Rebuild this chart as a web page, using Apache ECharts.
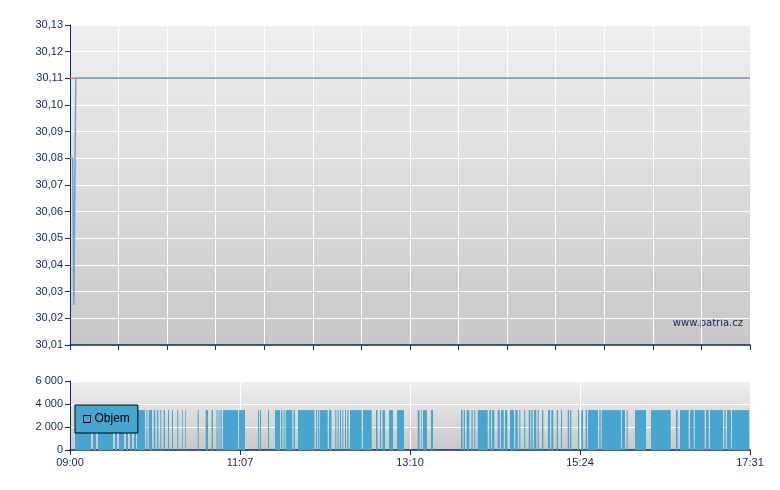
<!DOCTYPE html>
<html>
<head>
<meta charset="utf-8">
<script src="https://cdn.jsdelivr.net/npm/echarts@6/dist/echarts.min.js"></script>
<style>
html,body{margin:0;padding:0;background:#fff;}
#c{width:780px;height:490px;}
</style>
</head>
<body>
<div id="c"></div>
<script>
// ---- data ----
const timeLabels = ['09:00', '11:07', '13:10', '15:24', '17:31'];
const axisSpan = 680;               // session position units (0 = 09:00, 680 = 17:31)
const priceX = [0, 2.7, 3.8, 5.8, 680];
const priceY = [30.08, 30.08, 30.025, 30.11, 30.11];
const prevClose = 30.11;
const priceTicks = [30.01, 30.13, 0.01];   // min, max, step
const volumeTicks = [0, 6000, 2000];
// volume bars: start, end (session position units), volume
const volStart = [5,23,28,45,49,56,60,64,67,76.3,78.7,83.7,87,90.3,93.7,98,102,107.3,112.3,115.3,127.7,135.7,141.7,146.5,148.5,150.5,153,169,188,190,198,205,211,213.7,215.7,223.7,228,246,248,250,259,265.3,267.7,270,272.3,275,277.3,280,293,306,310,312.5,319,327,347.7,351,353,361,391,393.7,396.7,401.5,404.3,407.7,419.3,422,427.7,431,435,440,445.3,449.3,454.3,458.7,461.3,464,467.7,472,478,481.3,486.7,491,497.7,500,508,511.3,515.7,518,529.3,531.7,552,556.7,565,581,606,610,620,624.7,636,640,654.3,657,662];
const volEnd   = [21,26,43,47,54,58,62,66,75,77.3,82,85.3,88.3,91.3,95,99,103,108.3,113,116,128.7,138,143,147.5,149.5,151.7,168,175,189,191,199,210,212.3,214.7,222.3,225,244.5,247,249.3,257.7,261.5,266.3,268.7,271,273.3,276,278.5,291.7,301.7,307.5,311,315,323,334,349.5,351.7,357,363,392.5,395,399.3,402.7,405.3,417.7,421,424.3,429.7,433.7,437.3,444,447.7,450.3,455.3,460.3,462.7,466.3,468.7,473.3,480,483.3,488,492,499,501.3,509,513,517,528,530.7,551,555,557.7,576,600.7,607.7,618.7,623.7,634.7,638.7,653,655.7,661,679];
const volValue = volStart.map(() => 3470);

// ---- chart ----
const navy = '#0e2a5e';
const font = 'Liberation Sans, Arial, sans-serif';
const bgGrad = {type:'linear', x:0, y:0, x2:0, y2:1, colorStops:[{offset:0,color:'#efefef'},{offset:1,color:'#c8c8c8'}]};
const volRows = volStart.map((s, i) => [s, volEnd[i], volValue[i]]);

const chart = echarts.init(document.getElementById('c'), null, {renderer:'canvas'});
chart.setOption({
  animation: false,
  backgroundColor: '#fff',
  textStyle: {fontFamily: font},
  grid: [
    {left:70, top:25, width:680, height:320, show:true, backgroundColor:bgGrad, borderWidth:0},
    {left:70, top:381, width:680, height:69, show:true, backgroundColor:bgGrad, borderWidth:0}
  ],
  legend: {
    data: [{name:'Objem', icon:'rect', itemStyle:{color:'rgba(0,0,0,0)', borderColor:'#000', borderWidth:1}}],
    left: 75, top: 405,
    padding: [8, 8, 8, 8],
    itemWidth: 7, itemHeight: 7, itemGap: 5,
    backgroundColor: '#46a6cf', borderColor: '#000', borderWidth: 1, borderRadius: 0,
    textStyle: {color:'#000', fontSize:12, fontFamily:font, padding:[0,0,0,-1]}
  },
  xAxis: [
    {type:'value', gridIndex:0, min:0, max:axisSpan, interval:axisSpan/14,
     axisLine:{show:true, onZero:false, lineStyle:{color:navy, width:1.5}},
     axisTick:{show:true, length:5, lineStyle:{color:navy}},
     axisLabel:{show:false},
     splitLine:{show:true, lineStyle:{color:'#ffffff', width:1}}},
    {type:'value', gridIndex:1, min:0, max:axisSpan, interval:axisSpan/4,
     axisLine:{show:true, onZero:false, lineStyle:{color:navy, width:1.5}},
     axisTick:{show:true, length:5, lineStyle:{color:navy}},
     axisLabel:{show:true, color:navy, fontSize:11, fontFamily:font, margin:7,
       formatter: v => timeLabels[Math.round(v / (axisSpan/4))] || ''},
     splitLine:{show:true, lineStyle:{color:'#ffffff', width:1}}}
  ],
  yAxis: [
    {type:'value', gridIndex:0, min:priceTicks[0], max:priceTicks[1], interval:priceTicks[2],
     axisLine:{show:true, onZero:false, lineStyle:{color:navy, width:1}},
     axisTick:{show:true, length:5, lineStyle:{color:navy}},
     axisLabel:{color:navy, fontSize:11, fontFamily:font, margin:7,
       formatter: v => v.toFixed(2).replace('.', ',')},
     splitLine:{show:true, lineStyle:{color:'#ffffff', width:1}}},
    {type:'value', gridIndex:1, min:volumeTicks[0], max:volumeTicks[1], interval:volumeTicks[2],
     axisLine:{show:true, onZero:false, lineStyle:{color:navy, width:1}},
     axisTick:{show:true, length:5, lineStyle:{color:navy}},
     axisLabel:{color:navy, fontSize:11, fontFamily:font, margin:7,
       formatter: v => String(Math.round(v)).replace(/\B(?=(\d{3})+(?!\d))/g, ' ')},
     splitLine:{show:true, lineStyle:{color:'#ffffff', width:1}}}
  ],
  series: [
    {name:'prevClose', type:'line', xAxisIndex:0, yAxisIndex:0, symbol:'none',
     data:[[0, prevClose], [axisSpan, prevClose]],
     lineStyle:{color:'#e87070', width:1.5}, z:2, silent:true},
    {name:'Cena', type:'line', xAxisIndex:0, yAxisIndex:0, symbol:'none',
     data: priceX.map((x, i) => [x, priceY[i]]),
     lineStyle:{color:'#6fa3cc', width:1.5}, z:3},
    {name:'Objem', type:'custom', xAxisIndex:1, yAxisIndex:1,
     data: volRows,
     encode:{x:[0,1], y:2},
     itemStyle:{color:'#46a6cf'},
     renderItem: function (params, api) {
       const a = api.coord([api.value(0), api.value(2)]);
       const b = api.coord([api.value(1), 0]);
       return {type:'rect', shape:{x:a[0], y:a[1], width:b[0]-a[0], height:b[1]-a[1]},
               style:{fill:'#46a6cf'}};
     }, z:2}
  ],
  graphic: [
    {type:'text', right: 37, top: 318,
     style:{text:'www.patria.cz', fill:navy, font:'10px "DejaVu Sans", Verdana, sans-serif'}}
  ]
});
</script>
</body>
</html>
